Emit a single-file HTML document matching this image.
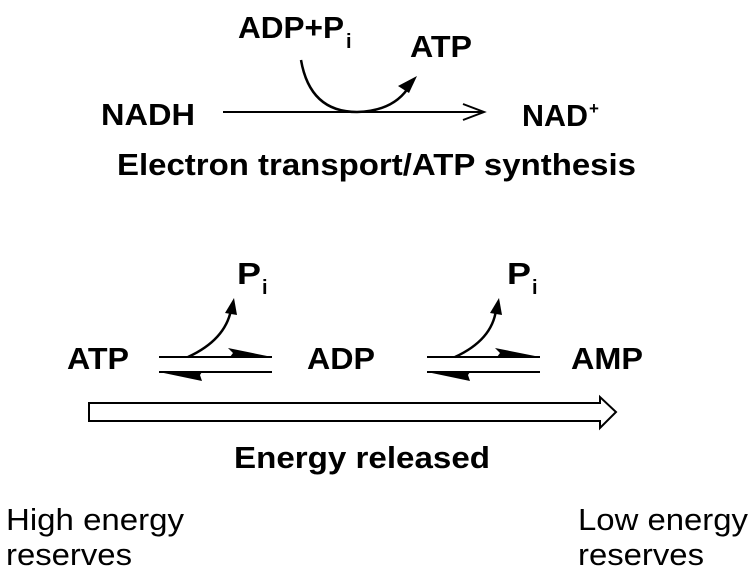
<!DOCTYPE html>
<html><head><meta charset="utf-8"><style>html,body{margin:0;padding:0;background:#fff}svg{display:block}</style></head>
<body>
<svg width="755" height="580" viewBox="0 0 755 580" xmlns="http://www.w3.org/2000/svg" font-family="Liberation Sans, Arial, sans-serif">
<g font-weight="bold" font-size="31" fill="#000">
<text x="238" y="38" textLength="106" lengthAdjust="spacingAndGlyphs">ADP+P</text>
<text x="346" y="48" font-size="20">i</text>
<text x="410" y="57" textLength="62" lengthAdjust="spacingAndGlyphs">ATP</text>
<text x="101" y="125" textLength="94" lengthAdjust="spacingAndGlyphs">NADH</text>
<text x="522" y="126" textLength="66" lengthAdjust="spacingAndGlyphs">NAD</text>
<text x="589" y="114" font-size="17">+</text>
<text x="117" y="175" textLength="519" lengthAdjust="spacingAndGlyphs">Electron transport/ATP synthesis</text>
<text x="237" y="284" textLength="24" lengthAdjust="spacingAndGlyphs">P</text>
<text x="262" y="294" font-size="20">i</text>
<text x="507" y="284" textLength="24" lengthAdjust="spacingAndGlyphs">P</text>
<text x="532" y="294" font-size="20">i</text>
<text x="67" y="369" textLength="62" lengthAdjust="spacingAndGlyphs">ATP</text>
<text x="307" y="369" textLength="68" lengthAdjust="spacingAndGlyphs">ADP</text>
<text x="571" y="369" textLength="72" lengthAdjust="spacingAndGlyphs">AMP</text>
<text x="234" y="468" textLength="256" lengthAdjust="spacingAndGlyphs">Energy released</text>
</g>
<g font-size="31" fill="#000">
<text x="6" y="530" textLength="178" lengthAdjust="spacingAndGlyphs">High energy</text>
<text x="6" y="565" textLength="126" lengthAdjust="spacingAndGlyphs">reserves</text>
<text x="578" y="530" textLength="170" lengthAdjust="spacingAndGlyphs">Low energy</text>
<text x="578" y="565" textLength="126" lengthAdjust="spacingAndGlyphs">reserves</text>
</g>
<g stroke="#000" fill="none" stroke-width="2">
<line x1="223" y1="112" x2="484" y2="112"/>
<polyline points="463,104 484,112 463,120"/>
<path d="M301,60 Q310,112 357,112 Q395,111 410,85" stroke-width="2.5"/>
<line x1="159" y1="357" x2="272" y2="357"/>
<line x1="159" y1="372" x2="272" y2="372"/>
<path d="M188,357 Q225,340 231,310" stroke-width="2.5"/>
<line x1="427" y1="357" x2="540" y2="357"/>
<line x1="427" y1="372" x2="540" y2="372"/>
<path d="M455,357 Q492,340 496,310" stroke-width="2.5"/>
<path d="M89,403 L600,403 L600,397 L616,412 L600,428 L600,421 L89,421 Z" stroke-width="2"/>
</g>
<g fill="#000">
<polygon points="417,76 398,86 409,93"/>
<polygon points="234,298 225,313 237,315"/>
<polygon points="499,298 490,313 502,315"/>
<polygon points="228,348 272,357 230,357 233,353"/>
<polygon points="159,372 202,372 200,375 202,381"/>
<polygon points="495,348 540,357 497,357 500,353"/>
<polygon points="427,372 470,372 468,375 470,381"/>
</g>
</svg>
</body></html>
